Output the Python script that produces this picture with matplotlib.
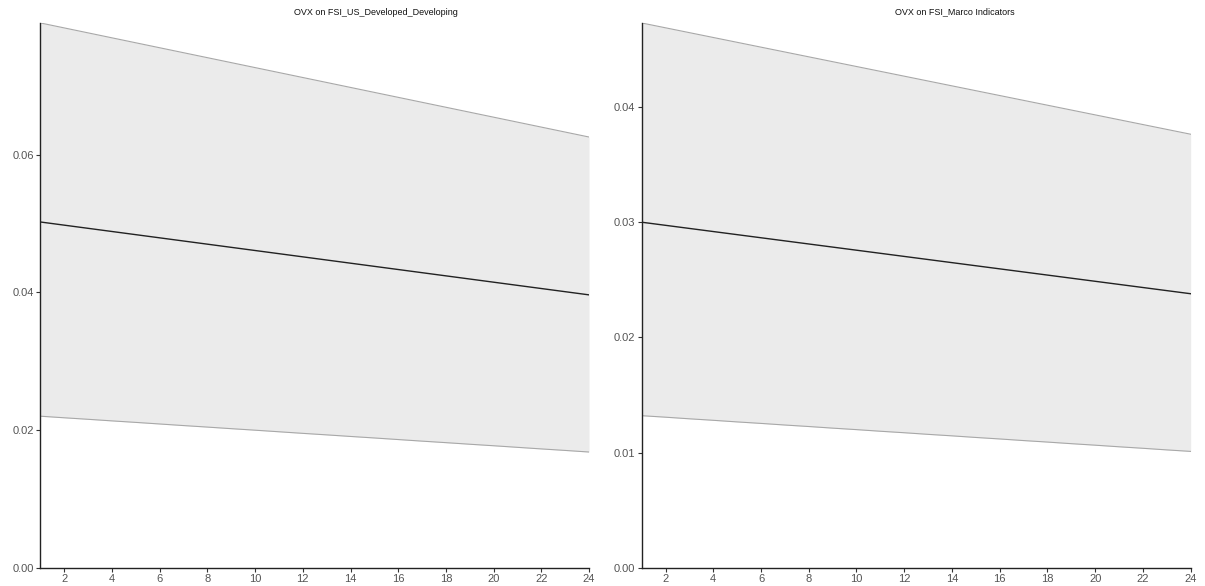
import numpy as np
import matplotlib.pyplot as plt

plt.rcParams['font.family'] = ['Liberation Sans', 'DejaVu Sans']

horizon = list(range(1, 25))

# OVX on FSI_US_Developed_Developing
title_left = "OVX on FSI_US_Developed_Developing"
irf_left = [0.0502, 0.04974, 0.04928, 0.04882, 0.04836, 0.0479, 0.04744, 0.04698,
            0.04652, 0.04606, 0.0456, 0.04514, 0.04468, 0.04422, 0.04376, 0.0433,
            0.04284, 0.04238, 0.04192, 0.04146, 0.041, 0.04054, 0.04008, 0.03962]
upper_left = [0.0791, 0.07838, 0.07766, 0.07694, 0.07622, 0.0755, 0.07478, 0.07406,
              0.07334, 0.07262, 0.0719, 0.07118, 0.07046, 0.06974, 0.06902, 0.0683,
              0.06758, 0.06686, 0.06614, 0.06542, 0.0647, 0.06398, 0.06326, 0.06254]
lower_left = [0.0220, 0.02177, 0.02155, 0.02132, 0.0211, 0.02087, 0.02064, 0.02042,
              0.02019, 0.01997, 0.01974, 0.01951, 0.01929, 0.01906, 0.01884, 0.01861,
              0.01838, 0.01816, 0.01793, 0.01771, 0.01748, 0.01725, 0.01703, 0.0168]

# OVX on FSI_Marco Indicators
title_right = "OVX on FSI_Marco Indicators"
irf_right = [0.03, 0.02973, 0.02946, 0.02919, 0.02892, 0.02865, 0.02838, 0.02811,
             0.02784, 0.02757, 0.0273, 0.02703, 0.02676, 0.02649, 0.02622, 0.02595,
             0.02568, 0.02541, 0.02514, 0.02487, 0.0246, 0.02433, 0.02406, 0.02379]
upper_right = [0.0473, 0.04688, 0.04646, 0.04604, 0.04562, 0.0452, 0.04478, 0.04436,
               0.04394, 0.04352, 0.0431, 0.04268, 0.04226, 0.04184, 0.04142, 0.041,
               0.04058, 0.04016, 0.03974, 0.03932, 0.0389, 0.03848, 0.03806, 0.03764]
lower_right = [0.0132, 0.01307, 0.01293, 0.0128, 0.01266, 0.01253, 0.01239, 0.01226,
               0.01212, 0.01199, 0.01185, 0.01172, 0.01158, 0.01145, 0.01131, 0.01118,
               0.01104, 0.01091, 0.01077, 0.01064, 0.0105, 0.01037, 0.01023, 0.0101]

yticks_left = [0.0, 0.02, 0.04, 0.06]
yticks_right = [0.0, 0.01, 0.02, 0.03, 0.04]

fig = plt.figure(figsize=(12.05, 5.86), dpi=100)
ax1 = fig.add_axes([0.0336, 0.0312, 0.4552, 0.9296])
ax2 = fig.add_axes([0.5325, 0.0312, 0.4556, 0.9296])


def draw(ax, title, irf, lo, hi, yticks):
    ax.fill_between(horizon, lo, hi, color='#ebebeb', lw=0)
    ax.plot(horizon, hi, color='#a8a8a8', lw=0.8)
    ax.plot(horizon, lo, color='#a8a8a8', lw=0.8)
    ax.plot(horizon, irf, color='#222222', lw=1.0)
    ax.set_xlim(1, 24)
    ax.set_ylim(0, max(hi))
    ax.set_xticks(range(2, 25, 2))
    ax.set_yticks(yticks)
    ax.yaxis.set_major_formatter(plt.FormatStrFormatter('%.2f'))
    for s in ['top', 'right']:
        ax.spines[s].set_visible(False)
    for s in ['left', 'bottom']:
        ax.spines[s].set_color('#222222')
        ax.spines[s].set_linewidth(1.0)
    ax.tick_params(length=3, width=0.8, color='#333333', labelcolor='#555555',
                   labelsize=8, pad=1.5)
    ax.text(0.462, 1.02, title, transform=ax.transAxes, ha='left', va='center',
            fontsize=6.5, color='#111111')


draw(ax1, title_left, irf_left, lower_left, upper_left, yticks_left)
draw(ax2, title_right, irf_right, lower_right, upper_right, yticks_right)

fig.savefig('out.png', dpi=100)
